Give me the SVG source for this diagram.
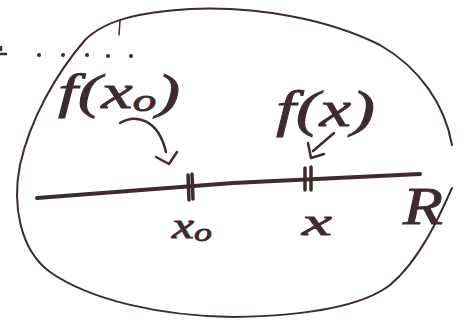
<svg xmlns="http://www.w3.org/2000/svg" width="466" height="320" viewBox="0 0 466 320">
<style>
.ink{fill:none;stroke:#3d2b2d;stroke-linecap:round;stroke-linejoin:round}
.t{font-family:"Liberation Serif","DejaVu Serif",serif;font-style:italic;fill:#3d2b2d;stroke:#3d2b2d;stroke-width:0.8}
</style>
<rect width="466" height="320" fill="#ffffff"/>
<g id="region">
<path class="ink" stroke-width="2" d="M 452,188 C 440,215 420,260 390,285 C 360,308 300,316 233,317 C 160,316 90,300 50,272 C 20,250 12,205 20,165 C 30,120 55,75 85,40 C 105,20 140,12 190,9 C 260,6 330,20 380,45 C 420,68 445,105 452,145"/>
<path class="ink" stroke-width="1.5" d="M 120,21 L 119,35"/>
</g>
<g id="dots" fill="#3d2b2d">
<path class="ink" stroke-width="2.5" d="M 0,54 L 6,54 M 1,47 L 1,50"/>
<circle cx="39" cy="55" r="2"/>
<circle cx="63" cy="55" r="2"/>
<circle cx="87" cy="55" r="2"/>
<circle cx="108" cy="56" r="2"/>
<circle cx="131" cy="56" r="2"/>
</g>
<g id="axis">
<path class="ink" stroke-width="4" d="M 37,198 L 233,183 L 420,174"/>
<text class="t" x="403" y="224" font-size="52" textLength="40" lengthAdjust="spacingAndGlyphs">R</text>
</g>
<g id="x0">
<path class="ink" stroke-width="3.5" d="M 188,175 L 189,200 M 192,174 L 193,199"/>
<text class="t" x="172" y="238" font-size="36" textLength="40" lengthAdjust="spacingAndGlyphs">x<tspan font-size="26" dy="3">o</tspan></text>
</g>
<g id="x">
<path class="ink" stroke-width="3.5" d="M 305,168 L 305,190 M 311,167 L 311,190"/>
<text class="t" x="302" y="235" font-size="38" textLength="30" lengthAdjust="spacingAndGlyphs">x</text>
</g>
<g id="fx0">
<text class="t" x="58" y="108" font-size="48" textLength="122" lengthAdjust="spacingAndGlyphs">f(x<tspan font-size="32" dy="3">o</tspan><tspan dy="-3">)</tspan></text>
</g>
<g id="fx">
<text class="t" x="276" y="126" font-size="50" textLength="99" lengthAdjust="spacingAndGlyphs">f(x)</text>
</g>
<g id="connectors">
<path class="ink" stroke-width="2.5" d="M 120,123 C 135,114 158,118 166,152"/>
<path class="ink" stroke-width="2.5" d="M 156,157 L 169,164 L 177,152"/>
<path class="ink" stroke-width="2.5" d="M 334,133 L 313,151"/>
<path class="ink" stroke-width="2.5" d="M 308,143 L 311,158 L 324,154"/>
</g>
</svg>
